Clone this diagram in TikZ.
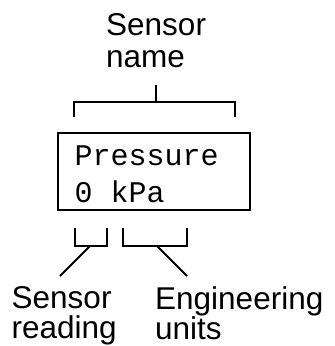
\documentclass[tikz,border=0pt]{standalone}
\usepackage{fontspec}
\setmainfont{Liberation Sans}
\setmonofont{Liberation Mono}
\usetikzlibrary{positioning}

\begin{document}
\begin{tikzpicture}[x=1pt, y=-1pt,
    caption/.style={align=left, inner sep=0pt, anchor=north west, font=\fontsize{31.5}{30}\selectfont},
    display/.style={align=left, inner sep=0pt, anchor=north west, font=\fontsize{30}{37}\ttfamily},
    brace/.style={line width=2pt},
  ]
    \useasboundingbox (0,0) rectangle (335,346);

    % LCD display
    \draw[line width=2.8pt] (58,133) rectangle (250,210);
    \node[display] (lcd) at (74.5,146) {Pressure\\0 kPa};

    % Sensor name bracket
    \draw[brace] (74,117) -- (74,102) -- (235,102) -- (235,117);
    \coordinate (nameTip) at (156,102);
    \coordinate (nameEnd) at (156,85);
    \draw[brace] (nameTip) -- (nameEnd);
    \node[caption, font=\fontsize{31.5}{32}\selectfont] (name) at (106,13) {Sensor\\name};

    % Sensor reading bracket
    \draw[brace] (75,228) -- (75,246) -- (107,246) -- (107,228);
    \coordinate (readTip) at (90,246);
    \coordinate (readEnd) at (60,276);
    \draw[brace] (readTip) -- (readEnd);
    \node[caption] (reading) at (11.5,286.5) {Sensor\\reading};

    % Engineering units bracket
    \draw[brace] (123,228) -- (123,246) -- (187,246) -- (187,228);
    \coordinate (unitTip) at (157,246);
    \coordinate (unitEnd) at (187,276);
    \draw[brace] (unitTip) -- (unitEnd);
    \node[caption] (units) at (155,286.5) {Engineering\\units};
\end{tikzpicture}
\end{document}
